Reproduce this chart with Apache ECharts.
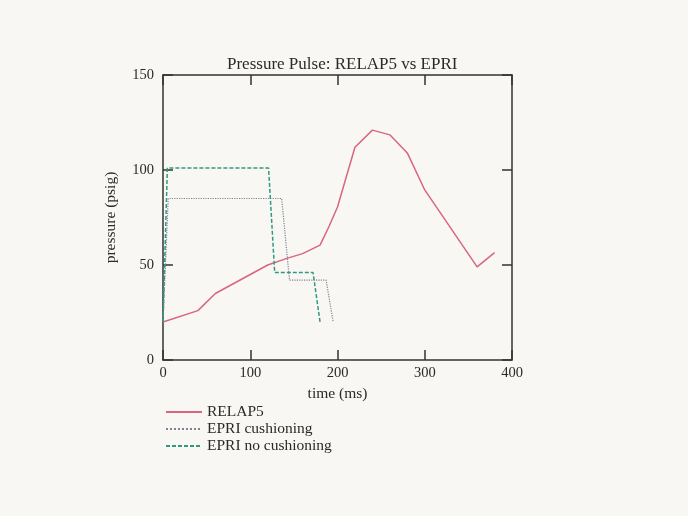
<!DOCTYPE html>
<html><head><meta charset="utf-8">
<script src="https://cdn.jsdelivr.net/npm/echarts@6/dist/echarts.min.js"></script>
<style>html,body{margin:0;padding:0;background:#f8f7f3}#c{width:688px;height:516px}</style>
</head><body><div id="c"></div>
<script>
const relapT = [0, 40, 60, 80, 100, 120, 142, 160, 180, 190, 200, 220, 240, 260, 280, 300, 360, 380];
const relapP = [20, 26, 35, 40, 45, 50, 53.5, 56, 60.5, 70, 80.5, 112, 121, 118.5, 109, 89.5, 49, 56.5];
const cushT = [0, 6, 136, 145, 187, 195];
const cushP = [20, 85, 85, 42, 42, 20];
const noCushT = [0, 5, 121, 128, 172, 180];
const noCushP = [20, 101, 101, 46, 46, 20];
const xTicks = [0, 100, 200, 300, 400];
const yTicks = [0, 50, 100, 150];

const zip = (a, b) => a.map((v, i) => [v, b[i]]);
const serif = '"Liberation Serif", "DejaVu Serif", serif';
const frame = '#333';
const txt = '#2a2a2a';

const chart = echarts.init(document.getElementById('c'));
chart.setOption({
  backgroundColor: '#f8f7f3',
  animation: false,
  title: {
    text: 'Pressure Pulse: RELAP5 vs EPRI',
    left: 222, top: 51,
    textStyle: { fontFamily: serif, fontSize: 17, fontWeight: 'normal', color: txt }
  },
  grid: { left: 163, right: 176, top: 75, bottom: 156 },
  legend: {
    orient: 'vertical', left: 160, top: 399,
    itemWidth: 36, itemHeight: 12, itemGap: 1,
    itemStyle: { color: 'transparent', borderColor: 'transparent', borderWidth: 0 },
    textStyle: { fontFamily: serif, fontSize: 15.5, color: txt },
    data: ['RELAP5', 'EPRI cushioning', 'EPRI no cushioning']
  },
  xAxis: [{
    type: 'value', min: 0, max: 400, interval: 100,
    name: 'time (ms)', nameLocation: 'middle', nameGap: 24,
    nameTextStyle: { fontFamily: serif, fontSize: 15.5, color: txt },
    axisLine: { onZero: false, lineStyle: { color: frame, width: 1.5 } },
    axisTick: { inside: true, length: 10, lineStyle: { color: frame, width: 1.5 } },
    axisLabel: { fontFamily: serif, fontSize: 14.5, color: txt, margin: 6,
      formatter: v => xTicks.includes(v) ? String(v) : '' },
    splitLine: { show: false }
  }, {
    type: 'value', min: 0, max: 400, interval: 100, position: 'top',
    axisLine: { show: true, onZero: false, lineStyle: { color: frame, width: 1.5 } },
    axisTick: { inside: true, length: 10, lineStyle: { color: frame, width: 1.5 } },
    axisLabel: { show: false }, splitLine: { show: false }
  }],
  yAxis: [{
    type: 'value', min: 0, max: 150, interval: 50,
    name: 'pressure (psig)', nameLocation: 'middle', nameGap: 44,
    nameTextStyle: { fontFamily: serif, fontSize: 15.5, color: txt },
    axisLine: { show: true, onZero: false, lineStyle: { color: frame, width: 1.5 } },
    axisTick: { inside: true, length: 10, lineStyle: { color: frame, width: 1.5 } },
    axisLabel: { fontFamily: serif, fontSize: 14.5, color: txt, margin: 9,
      formatter: v => yTicks.includes(v) ? String(v) : '' },
    splitLine: { show: false }
  }, {
    type: 'value', min: 0, max: 150, interval: 50, position: 'right',
    axisLine: { show: true, onZero: false, lineStyle: { color: frame, width: 1.5 } },
    axisTick: { inside: true, length: 10, lineStyle: { color: frame, width: 1.5 } },
    axisLabel: { show: false }, splitLine: { show: false }
  }],
  series: [{
    name: 'RELAP5', type: 'line', symbol: 'none',
    data: zip(relapT, relapP),
    lineStyle: { color: '#d8667f', width: 1.5 }, itemStyle: { color: '#d8667f' }
  }, {
    name: 'EPRI cushioning', type: 'line', symbol: 'none',
    data: zip(cushT, cushP),
    lineStyle: { color: '#7f8597', width: 1.2, type: 'dotted' }, itemStyle: { color: '#7f8597' }
  }, {
    name: 'EPRI no cushioning', type: 'line', symbol: 'none',
    data: zip(noCushT, noCushP),
    lineStyle: { color: '#2f9a82', width: 1.5, type: [4, 2] }, itemStyle: { color: '#2f9a82' }
  }]
});
</script></body></html>
